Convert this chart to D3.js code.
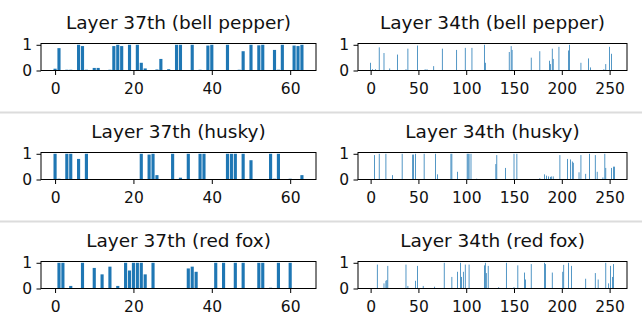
<!DOCTYPE html>
<html><head><meta charset="utf-8">
<script src="https://cdn.jsdelivr.net/npm/d3@7"></script>
<style>
html,body{margin:0;padding:0;background:#fff;}
svg{display:block;font-family:"DejaVu Sans",sans-serif;}
</style></head>
<body><svg id="c" width="642" height="323"></svg>
<script>
// ---- data ----
const titles = [
  ["Layer 37th (bell pepper)", "Layer 34th (bell pepper)"],
  ["Layer 37th (husky)", "Layer 34th (husky)"],
  ["Layer 37th (red fox)", "Layer 34th (red fox)"]
];
const leftTicks = [0, 20, 40, 60];
const rightTicks = [0, 50, 100, 150, 200, 250];
const yTicks = [0, 1];

// Layer 37: 64 channels
const bellPepper37 = [0.07,0.87,0,0.03,0.03,0,1.0,0.95,0.03,0,
  0.1,0.1,0,0,0.03,0.95,1.0,0.95,0,1.0,
  0,1.0,0.3,0.08,0,0,0.04,0.45,0,0.05,
  0,1.0,1.0,0,0,1.0,0,0.03,0,0.97,
  1.0,0,0,0,1.0,0,0,0.03,0.75,0,
  1.0,0,0.98,1.0,0,0,0.8,0.03,1.0,0,
  0,0.97,0.95,1.0];
const husky37 = [1.0,0.03,0,1.0,1.0,0,0.8,0,1.0,0,
  0,0,0,0,0,0,0,0,0,0,
  0,0,1.0,0,0.97,1.0,0.17,0,0,0,
  1.0,0,0.07,0,1.0,0,0,1.0,1.0,0,
  0,0,0,0,1.0,1.0,1.0,0,1.0,0,
  0.75,0,0,0,0,1.0,0.03,1.0,0,0,
  0.03,0,0,0.17];
const redFox37 = [0,1.0,1.0,0,0.1,0,0,1.0,0,0,
  0.8,0,0.55,0,0.85,0,0.1,0,1.0,0.7,
  1.0,1.0,1.0,0.55,0,1.0,0,0,0,0,
  0,0,0,0,0.78,0.85,0.65,0,0,0,
  0,1.0,0,1.0,0,0,1.0,0,1.0,0,
  0,0,1.0,1.0,0,0.03,0,1.0,0,0,
  1.0,0,0,0];

// Layer 34: 256 channels, non-zero channels as [channel, value]
const bellPepper34 = [[0,0.3],[2,0.05],[5,0.05],[9,0.9],[14,0.68],[20,0.08],[28,0.62],[37,0.05],[39,0.85],
  [49,0.97],[57,0.05],[59,0.05],[66,0.17],[75,0.85],[90,0.8],[99,0.88],[106,0.88],[119,1.0],[120,0.3],
  [145,0.72],[147,0.95],[148,0.8],[168,0.5],[177,0.75],[187,0.38],[188,0.25],[190,0.85],[191,0.45],
  [197,0.92],[207,0.78],[208,1.0],[220,0.3],[228,0.47],[230,0.12],[244,0.05],[246,0.25],[250,0.92],[252,0.65]];
const husky34 = [[4,0.95],[9,1.0],[16,1.0],[23,0.17],[33,1.0],[44,0.97],[45,0.97],[47,1.0],[56,1.0],[68,1.0],
  [70,0.2],[84,1.0],[85,1.0],[91,0.3],[101,1.0],[102,1.0],[103,1.0],[105,1.0],[111,0.03],[131,0.6],
  [132,0.95],[141,0.45],[150,1.0],[153,1.0],[177,0.05],[182,0.2],[184,0.15],[186,0.12],[188,0.1],
  [189,0.12],[191,0.12],[198,0.95],[206,0.8],[209,0.78],[211,0.7],[212,0.65],[218,0.28],[220,0.95],
  [225,0.22],[229,1.0],[235,0.95],[237,0.3],[243,0.08],[245,1.0],[246,0.45],[252,0.45],[254,0.5],[255,0.5]];
const redFox34 = [[7,0.93],[14,0.2],[16,0.3],[17,0.33],[18,0.88],[37,0.93],[39,0.1],[47,0.3],[49,0.88],
  [55,0.1],[67,0.07],[77,1.0],[85,0.45],[91,0.65],[94,1.0],[95,0.45],[97,0.65],[99,0.93],[103,0.93],
  [119,0.9],[120,1.0],[121,0.6],[123,0.88],[134,0.05],[142,1.0],[150,0.05],[154,0.9],[161,0.62],
  [162,0.35],[168,0.95],[182,1.0],[183,0.95],[190,0.62],[201,0.65],[202,0.92],[207,1.0],[210,0.88],
  [225,0.38],[235,0.6],[238,0.35],[246,1.0],[249,0.2],[251,0.88],[253,0.45],[254,0.95]];

// ---- layout ----
const svg = d3.select("#c");
const color = "#1f77b4";
const rowTops = [43.5, 152.5, 261.5];
const axH = 27;
const cols = [{x0: 41, x1: 316, n: 64, ticks: leftTicks},
              {x0: 358, x1: 627, n: 256, ticks: rightTicks}];
const leftData = [bellPepper37, husky37, redFox37].map(a => a.map((v, i) => [i, v]));
const rightData = [bellPepper34, husky34, redFox34];

// separators
[112.5, 221.5].forEach(y => {
  svg.append("line").attr("x1", 0).attr("x2", 642).attr("y1", y).attr("y2", y)
    .attr("stroke", "#dcdcdc").attr("stroke-width", 2);
});

rowTops.forEach((top, r) => {
  cols.forEach((col, c) => {
    const data = c === 0 ? leftData[r] : rightData[r];
    const span = col.n - 1 + 0.8;
    const lo = -0.4 - span * 0.05, hi = col.n - 1 + 0.4 + span * 0.05;
    const x = d3.scaleLinear().domain([lo, hi]).range([col.x0, col.x1]);
    const y = d3.scaleLinear().domain([0, 1.05]).range([top + axH, top]);
    const g = svg.append("g");

    g.selectAll("rect").data(data.filter(d => d[1] > 0)).join("rect")
      .attr("x", d => x(d[0] - 0.4))
      .attr("width", d => x(d[0] + 0.4) - x(d[0] - 0.4))
      .attr("y", d => y(d[1]))
      .attr("height", d => y(0) - y(d[1]))
      .attr("fill", color);

    // frame
    g.append("rect").attr("x", col.x0).attr("y", top)
      .attr("width", col.x1 - col.x0).attr("height", axH)
      .attr("fill", "none").attr("stroke", "#000").attr("stroke-width", 1);

    const xa = g.append("g").attr("transform", `translate(0,${top + axH})`)
      .call(d3.axisBottom(x).tickValues(col.ticks).tickSize(4.5).tickPadding(7.5).tickFormat(d3.format("d")));
    const ya = g.append("g").attr("transform", `translate(${col.x0},0)`)
      .call(d3.axisLeft(y).tickValues(yTicks).tickSize(4.5).tickPadding(4.5).tickFormat(d3.format("d")));
    [xa, ya].forEach(a => {
      a.select(".domain").remove();
      a.selectAll("line").attr("stroke", "#000");
      a.selectAll("text").attr("fill", "#111").style("font-size", "15.5px")
        .style("font-family", "DejaVu Sans, sans-serif");
    });

    g.append("text").attr("x", (col.x0 + col.x1) / 2).attr("y", top - 14.5)
      .attr("text-anchor", "middle").attr("fill", "#111")
      .style("font-size", "18.5px").text(titles[r][c]);
  });
});
</script></body></html>
